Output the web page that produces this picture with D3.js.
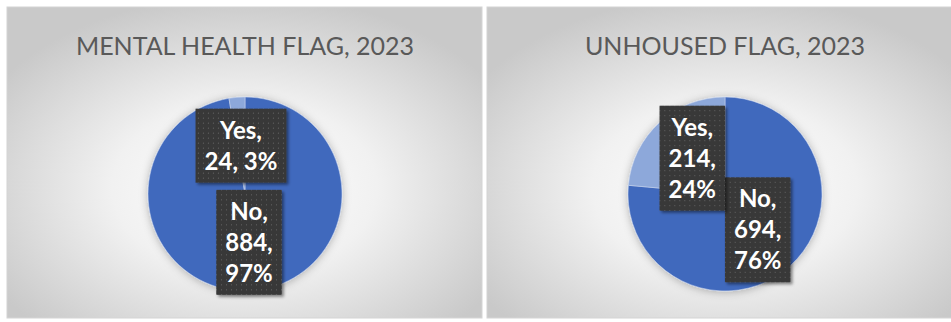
<!DOCTYPE html>
<html>
<head>
<meta charset="utf-8">
<script src="https://cdn.jsdelivr.net/npm/d3@7"></script>
<style>
  html, body { margin: 0; padding: 0; background: #ffffff; }
  svg { display: block; }
</style>
</head>
<body>
<svg id="chart" width="951" height="322"></svg>
<script>
// Chart titles, one per panel
const titles = ["MENTAL HEALTH FLAG, 2023", "UNHOUSED FLAG, 2023"];
// Slice categories (drawn clockwise from 12 o'clock)
const categories = ["No", "Yes"];
// Counts per panel
const mentalHealthCounts = [884, 24];
const unhousedCounts = [694, 214];
const panelValues = [mentalHealthCounts, unhousedCounts];

const sliceColors = ["#4169BD", "#8DA8DA"];

const svg = d3.select("#chart");
const defs = svg.append("defs");

// Panel background: soft radial fade from white to grey
const grad = defs.append("radialGradient")
  .attr("id", "panelBg").attr("cx", "50%").attr("cy", "58%").attr("r", "62%");
grad.append("stop").attr("offset", "0%").attr("stop-color", "#ffffff");
grad.append("stop").attr("offset", "45%").attr("stop-color", "#f1f1f1");
grad.append("stop").attr("offset", "100%").attr("stop-color", "#c9c9c9");

// Dotted fill for the data-label boxes
const pat = defs.append("pattern")
  .attr("id", "dots").attr("patternUnits", "userSpaceOnUse")
  .attr("width", 5).attr("height", 5);
pat.append("rect").attr("width", 5).attr("height", 5).attr("fill", "#383838");
pat.append("circle").attr("cx", 2.5).attr("cy", 2.5).attr("r", 0.6).attr("fill", "#6a6a6a");

const pieShadow = defs.append("filter").attr("id", "pieShadow")
  .attr("x", "-20%").attr("y", "-20%").attr("width", "140%").attr("height", "140%");
pieShadow.append("feDropShadow").attr("dx", 0).attr("dy", 1).attr("stdDeviation", 4)
  .attr("flood-color", "#000").attr("flood-opacity", 0.28);

const boxShadow = defs.append("filter").attr("id", "boxShadow")
  .attr("x", "-20%").attr("y", "-20%").attr("width", "150%").attr("height", "150%");
boxShadow.append("feDropShadow").attr("dx", 2).attr("dy", 2).attr("stdDeviation", 1.5)
  .attr("flood-color", "#000").attr("flood-opacity", 0.45);

const panelW = 475, panelH = 311, panelY = 7;
const panelX = d3.scaleOrdinal().domain([0, 1]).range([7, 487]);
const pieCx = 238, pieCy = 187, radius = 97;

const pie = d3.pie().sort(null).value(d => d);
const arc = d3.arc().innerRadius(0).outerRadius(radius);

const labelFont = "bold 24px Lato, 'Open Sans', sans-serif";
const lineH = 31, padX = 9, padY = 6, wrapMax = 80;

// Measure text widths for wrapping label words
const ctx = document.createElement("canvas").getContext("2d");
ctx.font = labelFont;
function wrap(words) {
  const lines = [];
  let cur = "";
  words.forEach(w => {
    const trial = cur ? cur + " " + w : w;
    if (cur && ctx.measureText(trial).width > wrapMax) {
      lines.push(cur);
      cur = w;
    } else cur = trial;
  });
  if (cur) lines.push(cur);
  return lines;
}

panelValues.forEach((vals, i) => {
  const g = svg.append("g").attr("transform", `translate(${panelX(i)},${panelY})`);

  g.append("rect")
    .attr("width", panelW).attr("height", panelH)
    .attr("fill", "url(#panelBg)")
    .attr("stroke", "#d4d4d4").attr("stroke-width", 1);

  g.append("text")
    .attr("x", pieCx).attr("y", 48)
    .attr("text-anchor", "middle")
    .attr("font-family", "Lato, 'Open Sans', sans-serif")
    .attr("font-size", 25)
    .attr("fill", "#595959")
    .text(titles[i]);

  const total = d3.sum(vals);
  const arcs = pie(vals);
  const pg = g.append("g").attr("transform", `translate(${pieCx},${pieCy})`);

  pg.append("g").attr("filter", "url(#pieShadow)")
    .selectAll("path").data(arcs).join("path")
    .attr("d", arc)
    .attr("fill", (d, k) => sliceColors[k])
    .attr("stroke", "#c9d6ef").attr("stroke-width", 0.8).attr("stroke-opacity", 0.7);

  // Data labels: category on its own line, then "value, percent" wrapped
  arcs.forEach((d, k) => {
    const pct = Math.round(d.value / total * 100) + "%";
    const lines = [categories[k] + ","].concat(wrap([d.value + ",", pct]));
    const w = d3.max(lines, l => ctx.measureText(l).width) + padX * 2;
    const h = lines.length * lineH + padY * 2;
    const [cx, cy] = arc.centroid(d);
    const lg = pg.append("g").attr("transform", `translate(${cx},${cy})`);
    lg.append("rect")
      .attr("x", -w / 2).attr("y", -h / 2).attr("width", w).attr("height", h)
      .attr("fill", "url(#dots)").attr("filter", "url(#boxShadow)");
    lg.selectAll("text").data(lines).join("text")
      .attr("x", 0)
      .attr("y", (l, j) => -h / 2 + padY + lineH * j + lineH * 0.5)
      .attr("dy", "0.36em")
      .attr("text-anchor", "middle")
      .style("font", labelFont)
      .attr("fill", "#ffffff")
      .text(l => l);
  });
});
</script>
</body>
</html>
